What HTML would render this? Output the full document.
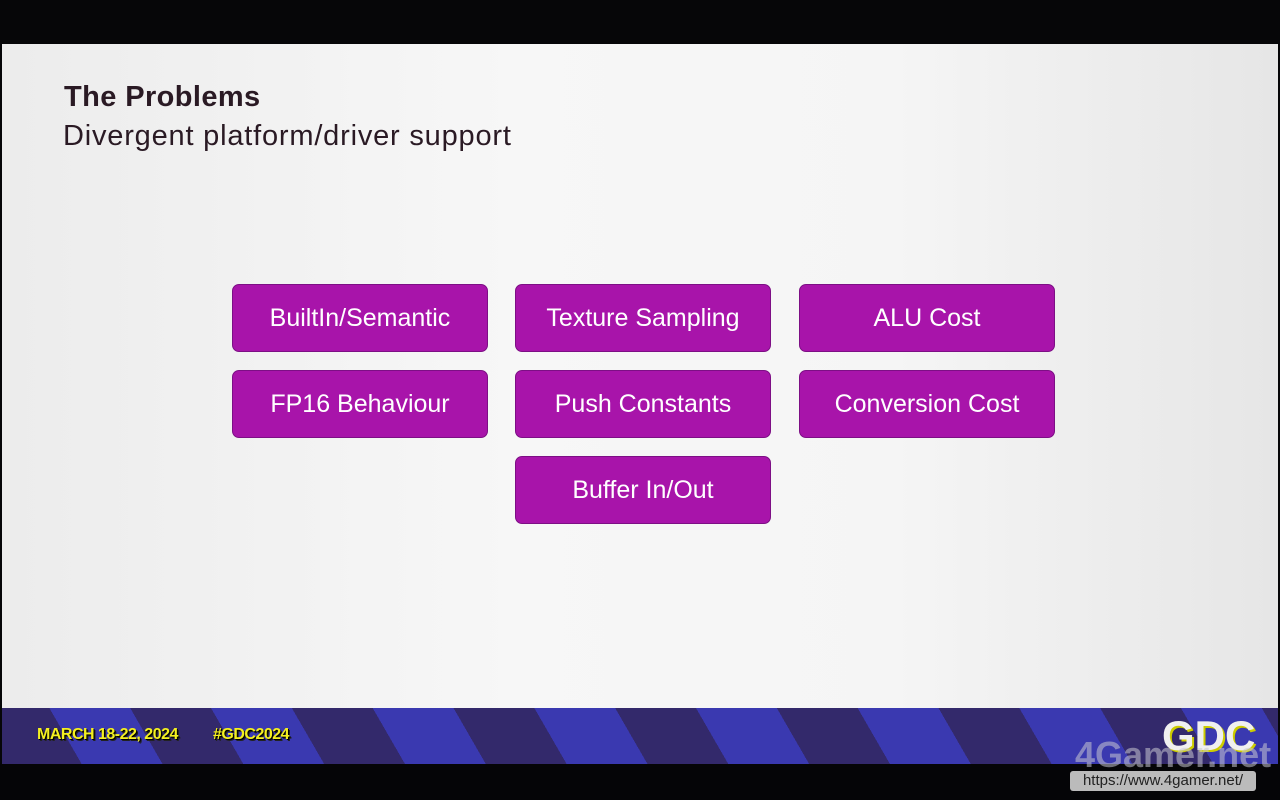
<!DOCTYPE html>
<html><head><style>
body{margin:0;width:1280px;height:800px;background:#060608;position:relative;overflow:hidden;font-family:"Liberation Sans",sans-serif}
.slide{position:absolute;left:2px;top:44px;width:1276px;height:666px;background:linear-gradient(90deg,#ececec,#f7f7f7 40%,#f5f5f5 70%,#e6e6e6)}
.band{position:absolute;left:2px;top:708px;width:1276px;height:58px;background:repeating-linear-gradient(60deg,#33296b 0 70px,#3a39b0 70px 140px)}
.b{position:absolute;width:254px;height:66px;background:#a814aa;border:1px solid #7d0f85;border-radius:7px;color:#fff;font-size:25px;display:flex;align-items:center;justify-content:center}
.h1{position:absolute;left:64px;top:81px;font-size:29px;font-weight:bold;color:#2a1a24;letter-spacing:0.4px}
.h2{position:absolute;left:63px;top:120px;font-size:29px;color:#2a1a24;letter-spacing:0.8px}
.y{position:absolute;top:726px;color:#f4f020;font-weight:bold;font-size:16px;text-shadow:1px 1px 0 #000,2px 2px 0 #222;letter-spacing:-0.5px}
</style></head><body>
<div class="slide"></div>
<div class="band"></div>
<div style="position:absolute;left:0;top:764px;width:1280px;height:36px;background:#050507"></div>
<div class="h1">The Problems</div>
<div class="h2">Divergent platform/driver support</div>
<div class="b" style="left:232px;top:284px">BuiltIn/Semantic</div>
<div class="b" style="left:515px;top:284px">Texture Sampling</div>
<div class="b" style="left:799px;top:284px">ALU Cost</div>
<div class="b" style="left:232px;top:370px">FP16 Behaviour</div>
<div class="b" style="left:515px;top:370px">Push Constants</div>
<div class="b" style="left:799px;top:370px">Conversion Cost</div>
<div class="b" style="left:515px;top:456px">Buffer In/Out</div>
<div class="y" style="left:37px">MARCH 18-22, 2024</div>
<div class="y" style="left:213px">#GDC2024</div>
<div style="position:absolute;left:1162px;top:712px;font-size:42px;font-weight:bold;color:#f0f0f0;text-shadow:2px 2px 0 #cc0">GDC</div>
<div style="position:absolute;left:1075px;top:734px;font-size:36px;font-weight:bold;color:rgba(200,200,210,0.55)">4Gamer.net</div>
<div style="position:absolute;left:1070px;top:771px;width:186px;height:20px;background:#bbb;border-radius:3px;color:#222;font-size:15px;text-align:center;line-height:20px">https://www.4gamer.net/</div>
</body></html>
